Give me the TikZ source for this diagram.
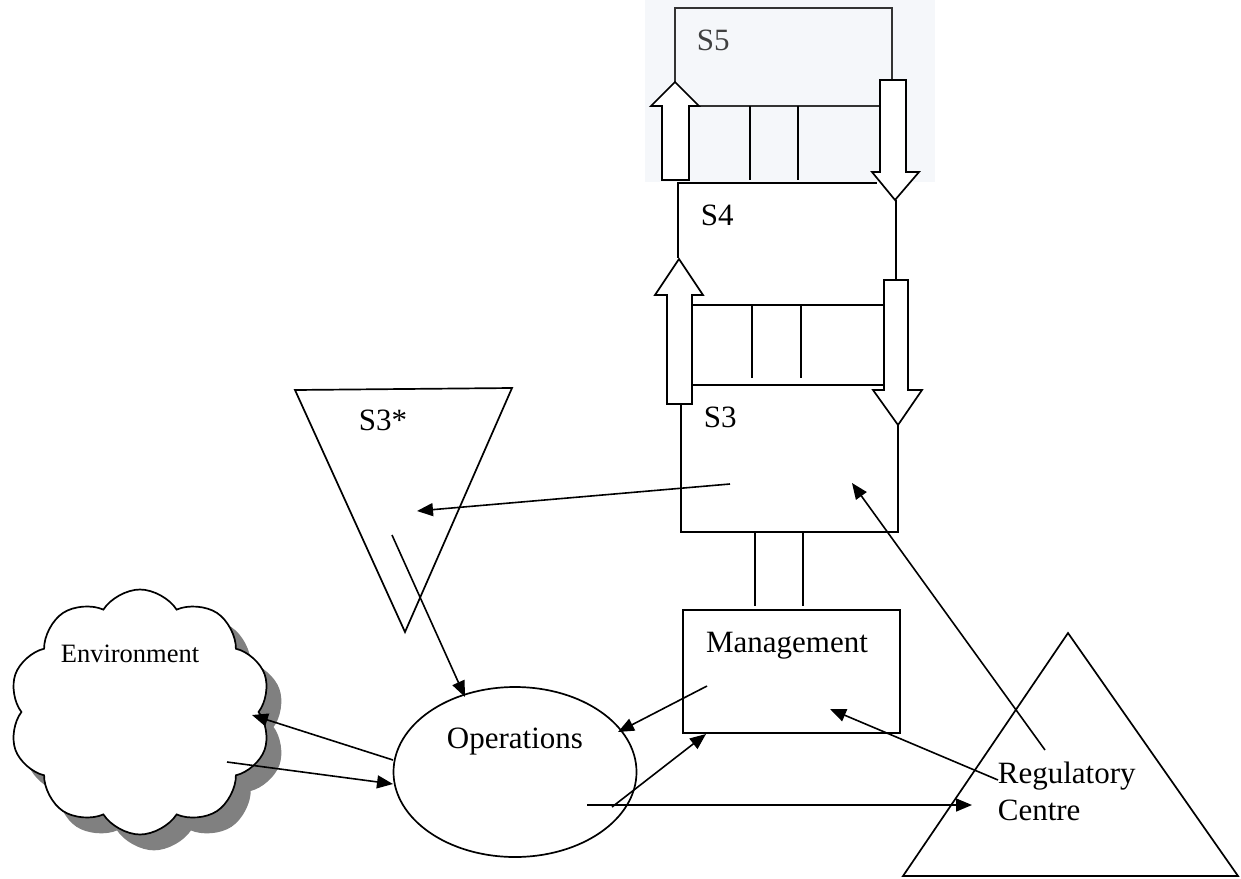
\documentclass[tikz,border=0pt]{standalone}
\usepackage{fontspec}
\setmainfont{Liberation Serif}
\usetikzlibrary{arrows.meta,shapes.symbols,shapes.geometric}
\definecolor{tint}{RGB}{245,247,250}
\definecolor{shadowgray}{RGB}{128,128,128}
\begin{document}
\begin{tikzpicture}[x=1pt,y=-1pt,
  line width=1.7pt,
  lbl/.style={font=\fontsize{31}{36}\selectfont, inner sep=0pt},
  envlbl/.style={font=\fontsize{26.5}{30}\selectfont, inner sep=0pt},
  conn/.style={line width=1.6pt, -{Triangle[length=16pt,width=13pt]}},
  blockarr/.style={draw, fill=white, line width=1.7pt, line join=miter},
  outline/.style={draw, line width=1.7pt},
  cloudshape/.style={cloud, cloud puffs=10, cloud puff arc=115, aspect=1.05,
     minimum width=262pt, minimum height=245pt, inner sep=0pt},
]
\useasboundingbox (0,0) rectangle (1241,878);
\fill[white] (0,0) rectangle (1241,878);

% tinted background of the S5 picture
\fill[tint] (645,0) rectangle (935,182);

% ---------------- S5 ----------------
\draw[outline, draw=black!80] (675,82) -- (675,8) -- (892,8) -- (892,80);
\draw[outline, draw=black!80] (699,106) -- (880,106);
\draw[outline] (750,106) -- (750,180);
\draw[outline] (798,106) -- (798,180);
\node[lbl, anchor=base west, text=black!75] (s5) at (696,50) {S5};

% ---------------- S4 ----------------
\draw[outline] (678,258) -- (678,183) -- (877,183);
\draw[outline] (896,200) -- (896,280);
\node[lbl, anchor=base west] (s4) at (700,225) {S4};
% channel S4-S3
\draw[outline] (692,305) -- (884,305);
\draw[outline] (692,385) -- (884,385);
\draw[outline] (752,305) -- (752,378);
\draw[outline] (801,305) -- (801,378);

% ---------------- S3 ----------------
\draw[outline] (681,404) -- (681,532) -- (898,532) -- (898,425);
\node[lbl, anchor=base west] (s3) at (703,427) {S3};

% block arrows
\draw[blockarr] (662,180) -- (662,106) -- (651,106) -- (675,82) -- (699,106) -- (689,106) -- (689,180) -- cycle;
\draw[blockarr] (880,80) -- (906,80) -- (906,172) -- (919,172) -- (895,200) -- (872,172) -- (880,172) -- cycle;
\draw[blockarr] (667,404) -- (667,295) -- (655,295) -- (679,259) -- (703,295) -- (692,295) -- (692,404) -- cycle;
\draw[blockarr] (884,280) -- (908,280) -- (908,390) -- (922,390) -- (898,425) -- (873,390) -- (884,390) -- cycle;

% ---------------- Management ----------------
\node[draw, line width=1.7pt, minimum width=217pt, minimum height=123pt, inner sep=0pt] (mgmt) at (791.5,671.5) {};
\node[lbl, anchor=base] (mgmtlbl) at (787,652) {Management};
\draw[outline] (755,532) -- (755,606);
\draw[outline] (803,532) -- (803,606);

% ---------------- S3* ----------------
\coordinate (st1) at (295,390);
\coordinate (st2) at (512,388);
\coordinate (st3) at (405,632);
\draw[outline, line join=miter] (st1) -- (st2) -- (st3) -- cycle;
\node[lbl, anchor=base] (s3star) at (383,430) {S3*};

% ---------------- Operations ----------------
\node[draw, ellipse, line width=1.7pt, minimum width=243pt, minimum height=170pt, inner sep=0pt] (ops) at (515,772) {};
\node[lbl, anchor=base] (opslbl) at (515,748) {Operations};

% ---------------- Regulatory Centre ----------------
\coordinate (rc1) at (1068,633);
\coordinate (rc2) at (903,876);
\coordinate (rc3) at (1238,876);
\draw[outline, line join=miter] (rc1) -- (rc2) -- (rc3) -- cycle;
\node[lbl, anchor=base west] (reg1) at (997,783) {Regulatory};
\node[lbl, anchor=base west] (reg2) at (997,820) {Centre};

% ---------------- Environment cloud ----------------
\node[cloudshape, fill=shadowgray, draw=shadowgray] (envshadow) at (154,727) {};
\node[cloudshape, draw, fill=white, line width=1.7pt] (env) at (140,712) {};
\node[envlbl, anchor=base west] (envlbl) at (60,662) {Environment};

% ---------------- connector end points ----------------
\coordinate (s3out) at (730,484);
\coordinate (s3stin) at (417,511);
\coordinate (s3stout) at (392,535);
\coordinate (opsin1) at (465,697);
\coordinate (mgout) at (707,686);
\coordinate (opsin2) at (618,732);
\coordinate (opsout1) at (612,807);
\coordinate (mgin) at (706,734);
\coordinate (opsout2) at (587,805);
\coordinate (regin) at (972,805);
\coordinate (regout1) at (998,780);
\coordinate (mgin2) at (830,709);
\coordinate (regout2) at (1045,750);
\coordinate (s3in) at (852,483);
\coordinate (opsl1) at (393,760);
\coordinate (envin) at (252,715);
\coordinate (envout) at (227,762);
\coordinate (opsl2) at (393,784);

% ---------------- connectors ----------------
\draw[conn] (s3out) -- (s3stin);
\draw[conn] (s3stout) -- (opsin1);
\draw[conn] (mgout) -- (opsin2);
\draw[conn] (opsout1) -- (mgin);
\draw[conn] (opsout2) -- (regin);
\draw[conn] (regout1) -- (mgin2);
\draw[conn] (regout2) -- (s3in);
\draw[conn] (opsl1) -- (envin);
\draw[conn] (envout) -- (opsl2);
\end{tikzpicture}
\end{document}
